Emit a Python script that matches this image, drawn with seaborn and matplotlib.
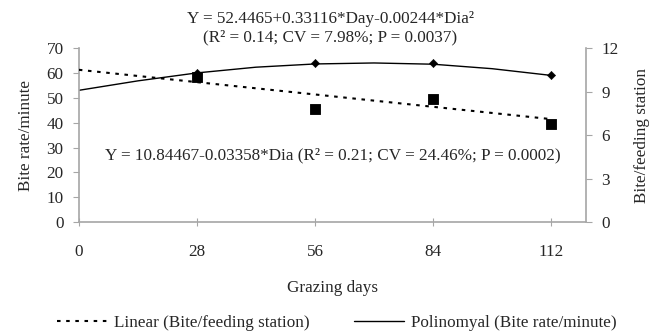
import pandas as pd
import matplotlib.pyplot as plt
import seaborn as sns
from matplotlib.lines import Line2D

# ==============================
# Data
# ==============================
days = [28, 56, 84, 112]
bite_rate = [60.1, 63.8, 63.8, 59.1]          # bite rate/minute (left axis)
bite_station = [10.0, 7.8, 8.5, 6.75]          # bite/feeding station (right axis)

# trend lines as they appear in the picture
poly_days = [0, 14, 28, 42, 56, 70, 84, 98, 112]
poly_rate = [53.0, 56.8, 60.0, 62.3, 63.6, 64.0, 63.5, 61.7, 59.0]
lin_days = [0, 112]
lin_station = [10.5, 7.1]

x_ticks = [0, 28, 56, 84, 112]

df_pts = pd.DataFrame({'day': days, 'rate': bite_rate, 'station': bite_station})
df_poly = pd.DataFrame({'day': poly_days, 'rate': poly_rate})
df_lin = pd.DataFrame({'day': lin_days, 'station': lin_station})

# ==============================
# Figure
# ==============================
sns.set_style("white")
plt.rcParams['font.family'] = ['Liberation Serif', 'DejaVu Serif']
fs = 12.3
dots = (0, (1.7, 2.7))

fig = plt.figure(figsize=(6.57, 3.36), dpi=100)
ax = fig.add_axes([0.120, 0.339, 0.772, 0.518])
ax2 = ax.twinx()

grey = '#a6a6a6'

# polynomial line + diamonds on left axis
sns.lineplot(data=df_poly, x='day', y='rate', ax=ax, color='black', lw=1.0)
sns.scatterplot(data=df_pts, x='day', y='rate', ax=ax, marker='D', s=18,
                color='black', edgecolor='black', zorder=5)

# linear line + squares on right axis
sns.lineplot(data=df_lin, x='day', y='station', ax=ax2, color='black', lw=1.5,
             linestyle=dots)
sns.scatterplot(data=df_pts, x='day', y='station', ax=ax2, marker='s', s=60,
                color='black', edgecolor='black', zorder=5)

ax.set_xlim(0, 120.3)
ax.set_ylim(0, 70)
ax2.set_ylim(0, 12)
ax.set_xticks(x_ticks)
ax.set_yticks(range(0, 71, 10))
ax2.set_yticks(range(0, 13, 3))

for a in (ax, ax2):
    for s in a.spines.values():
        s.set_color(grey)
        s.set_linewidth(1.2)
    a.spines['top'].set_visible(False)
ax.spines['right'].set_visible(False)
ax2.spines['left'].set_visible(False)
ax2.spines['bottom'].set_visible(False)

ax.tick_params(axis='y', direction='out', length=4, color=grey, labelsize=fs, pad=7, left=True)
ax.tick_params(axis='x', direction='inout', length=6, color=grey, labelsize=fs, pad=13, bottom=True)
ax2.tick_params(axis='y', direction='out', length=4, color=grey, labelsize=fs, pad=7, right=True)

ax.set_xlabel("Grazing days", fontsize=fs, labelpad=14)
ax.set_ylabel("Bite rate/minute", fontsize=fs, labelpad=9)
ax2.set_ylabel("Bite/feeding station", fontsize=fs, labelpad=11)

fig.text(0.503, 0.944, "Y = 52.4465+0.33116*Day-0.00244*Dia²",
         ha='center', va='center', fontsize=fs)
fig.text(0.503, 0.889, "(R² = 0.14; CV = 7.98%; P = 0.0037)",
         ha='center', va='center', fontsize=fs)
fig.text(0.506, 0.538, "Y = 10.84467-0.03358*Dia (R² = 0.21; CV = 24.46%; P = 0.0002)",
         ha='center', va='center', fontsize=fs)

handles = [
    Line2D([], [], color='black', lw=1.5, linestyle=dots),
    Line2D([], [], color='black', lw=1.0),
]
labels = ["Linear (Bite/feeding station)", "Polinomyal (Bite rate/minute)"]
fig.legend(handles, labels, loc='center', bbox_to_anchor=(0.513, 0.040), ncol=2,
           frameon=False, fontsize=fs, handlelength=2.9, columnspacing=2.6,
           handletextpad=0.45, borderpad=0, borderaxespad=0)

fig.savefig("out.png", dpi=100)
